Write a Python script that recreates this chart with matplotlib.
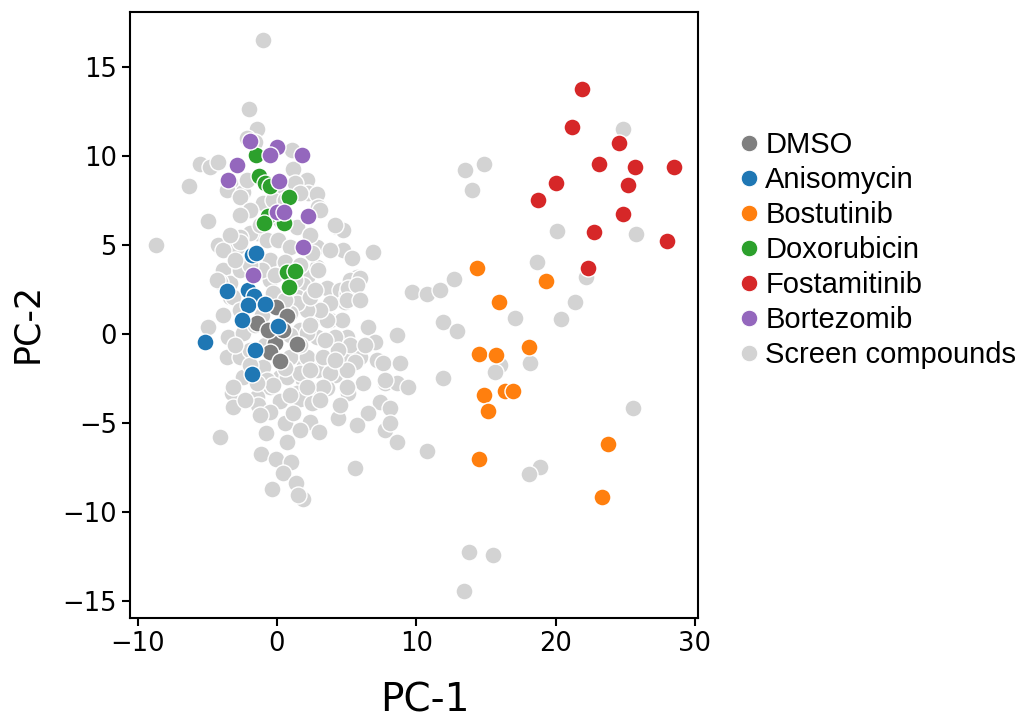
import matplotlib
matplotlib.use("Agg")
import matplotlib.pyplot as plt
from matplotlib.lines import Line2D

# ---------------- data ----------------
screen_x = [-0.98, -1.99, -1.46, -2.18, -1.58, 1.06, -5.53, -4.81, -4.21, -6.34,
            1.17, 2.13, 1.29, 2.25, 2.85, 2.96, -3.37, -3.61, -2.42, -2.18,
            -0.02, -0.98, -2.66, 1.65, 3.09, 1.41, -0.27, -1.46, -1.94, -2.66,
            -4.21, -2.89, -0.74, 0.09, 0.93, 2.85, 4.29, 4.76, 4.76, 5.36,
            6.91, 5.72, 3.57, 2.13, 2.85, -0.50, -3.85, -3.85, -3.37, -0.50,
            -0.27, 1.89, 4.52, 5.24, 5.00, -4.93, -8.69, -2.66, 2.49, 4.16,
            5.96, 4.88, 2.96, 1.89, -4.09, -3.37, -3.85, -4.93, -3.50, -3.61,
            -2.42, -3.25, -2.66, -0.98, 0.22, 1.89, 2.85, 3.80, 4.64, 5.00,
            6.55, 5.24, 5.96, 3.80, 5.12, 7.16, 1.89, 2.85, 1.41, -0.50,
            -1.46, 2.37, 1.41, 3.80, 3.09, 5.12, 4.16, 5.24, 7.04, 8.59,
            5.60, 7.63, 8.83, 7.75, 8.59, 9.43, 4.16, 7.39, 8.11, 6.55,
            4.40, 5.72, 7.75, 8.11, 8.59, 10.75, 11.94, 11.94, 12.90, 9.67,
            10.75, 11.70, 12.71, 17.09, 18.64, 18.16, 16.01, 15.65, 5.60, 13.52,
            14.88, 14.02, 24.86, 20.08, 25.75, 22.16, 21.37, 20.39, 18.88, 18.07,
            25.58, 13.80, 15.53, 13.40, -3.14, -1.34, 0.22, 1.65, 2.49, 3.57,
            -4.09, -0.79, 0.57, 2.37, 3.04, 0.70, -1.17, -0.07, 0.98, 0.41,
            -0.38, 1.36, 1.89, 1.53, -0.50, 1.17, -2.42, -0.74, 0.70, 1.65,
            2.85, 3.80, 5.00, 0.93, 2.13, 3.32, 4.40, 1.65, 3.57, 3.09,
            2.13, 1.41, 2.37, 5.00, 5.72, 7.75, 6.20, 5.00, 3.32, 2.13,
            -0.27, -1.46, -3.14, -4.33, -3.14, 2.13, 0.93, -1.08, 0.57, -1.08,
            0.57, -2.66, 1.65, 3.80, -0.86, -1.94, 0.93,
            -1.94, -0.14, 1.29, 2.73, -2.66, -1.58, 2.37, 3.45, 1.65, 0.57,
            -1.94, -3.01, 2.37, 4.16, 0.93, 3.09, -2.30, -1.22, 1.65, 4.52,
            -1.22, 0.22, 2.37, -3.37, -1.94, -2.66, 0.57, -3.01, 5.96, 6.32]
screen_y = [16.52, 12.64, 11.52, 10.99, 10.80, 10.34, 9.55, 9.40, 9.66, 8.31,
            9.25, 8.65, 8.47, 7.94, 7.87, 7.12, 8.47, 8.09, 7.99, 8.65,
            7.99, 7.34, 7.71, 7.90, 6.97, 6.03, 7.53, 5.66, 5.66, 5.47,
            5.00, 4.90, 5.28, 5.28, 4.90, 4.90, 6.03, 5.84, 4.72, 4.25,
            4.62, 3.22, 2.57, 3.22, 3.78, 4.16, 4.72, 3.60, 2.85, 3.03,
            2.29, 2.47, 2.47, 3.03, 2.29, 6.37, 5.00, 5.19, 4.53, 6.12,
            3.13, 1.81, 3.60, 2.75, 2.94, 2.10, 1.07, 0.41, -0.15, -1.28,
            -2.40, -3.33, -1.28, -1.84, -2.40, -1.46, -0.15, 0.79, 0.79, -0.15,
            0.41, -1.28, -1.28, -2.40, -3.33, -1.46, -2.58, -3.15, -3.33, -2.96,
            -3.52, 1.63, 2.10, 1.72, 0.97, 2.57, -0.15, -0.62, -0.43, -0.06,
            -1.56, -1.65, -1.65, -2.77, -2.77, -2.96, -2.30, -3.80, -4.17, -4.46,
            -4.74, -5.11, -5.39, -5.02, -6.05, -6.56, -2.49, 0.69, 0.19, 2.38,
            2.25, 2.47, 3.07, 0.88, 4.06, -1.61, -1.74, -2.12, -7.54, 9.21,
            9.55, 8.09, 11.52, 5.80, 5.62, 3.19, 1.81, 0.83, -7.46, -7.87,
            -4.14, -12.23, -12.42, -14.44, -4.08, -3.99, -3.75, -3.67, -3.86, -3.05,
            -5.80, -5.54, -5.02, -4.93, -5.49, -6.05, -6.74, -7.04, -7.19, -7.83,
            -8.71, -8.35, -9.27, -9.04, -4.37, -4.46, 0.04, -2.58, -2.40, -2.21,
            -2.02, -2.21, -2.02, -1.28, -1.28, -1.28, -0.90, 0.22, 0.79, 1.35,
            1.35, 1.72, 2.10, 1.91, 2.75, -2.58, -2.77, -2.96, -2.96, -2.96,
            -2.87, -2.77, -2.96, 3.03, 2.10, 0.04, 1.16, 3.60, 4.04, 1.07,
            1.91, 3.60, 3.88, 4.72, -0.62, -0.90, -0.06,
            3.88, 3.31, 3.03, 2.47, 1.35, 0.51, 0.51, -0.34, -0.62, -1.91,
            -1.74, -0.62, -2.02, -1.46, -3.43, -3.71, -3.71, -4.55, -5.39, -3.99,
            6.12, 6.40, 5.56, 5.56, 6.97, 6.69, 7.53, 4.16, 1.91, -0.62]

dmso_x = [-0.07, 0.72, -1.40, -0.14, 1.41, -0.50, 0.22, -0.65, 0.43]
dmso_y = [1.54, 0.98, 0.63, -0.51, -0.56, -1.01, -1.52, 0.22, 0.22]

aniso_x = [-1.82, -1.51, -3.57, -2.06, -1.63, -2.06, -0.86, -2.53, 0.05, -5.15, -1.58, -1.82]
aniso_y = [4.44, 4.52, 2.44, 2.47, 2.13, 1.60, 1.66, 0.81, 0.42, -0.45, -0.93, -2.26]

bost_x = [14.34, 19.31, 15.94, 14.48, 15.72, 18.11, 14.84, 16.37, 16.92, 15.15, 14.48, 23.74, 23.35]
bost_y = [3.69, 2.99, 1.80, -1.14, -1.20, -0.71, -3.43, -3.20, -3.20, -4.34, -7.01, -6.18, -9.17]

doxo_x = [-1.51, -1.27, -0.86, -0.50, 0.86, -0.62, -0.93, 0.52, 0.72, 1.33, 0.88]
doxo_y = [10.06, 8.85, 8.47, 8.34, 7.72, 6.60, 6.24, 6.21, 3.46, 3.54, 2.64]

fosta_x = [21.87, 21.16, 24.55, 23.09, 25.68, 28.52, 25.22, 20.05, 18.76, 24.86, 22.76, 28.02, 22.35]
fosta_y = [13.75, 11.65, 10.71, 9.53, 9.38, 9.40, 8.39, 8.47, 7.54, 6.76, 5.75, 5.22, 3.72]

bort_x = [-1.94, 0.02, -0.50, 1.79, -2.87, -3.48, 0.17, -0.02, 0.52, 2.25, 1.89, -1.74]
bort_y = [10.84, 10.49, 10.06, 10.06, 9.47, 8.65, 8.60, 6.83, 6.85, 6.60, 4.89, 3.31]

labels = ["DMSO", "Anisomycin", "Bostutinib", "Doxorubicin", "Fostamitinib",
          "Bortezomib", "Screen compounds"]
colors = ["#7f7f7f", "#1f77b4", "#ff7f0e", "#2ca02c", "#d62728", "#9467bd", "#d3d3d3"]

xticks = [-10, 0, 10, 20, 30]
yticks = [-15, -10, -5, 0, 5, 10, 15]

# ---------------- plot ----------------
plt.rcParams['font.family'] = ['DejaVu Sans']
fig = plt.figure(figsize=(10.21, 7.18), dpi=100)
ax = fig.add_axes([0.1273, 0.1393, 0.5563, 0.844])

kw = dict(s=150, edgecolors="white", linewidths=1.0)
ax.scatter(screen_x, screen_y, color=colors[6], **kw)
groups = [(dmso_x, dmso_y), (aniso_x, aniso_y), (bost_x, bost_y),
          (doxo_x, doxo_y), (fosta_x, fosta_y), (bort_x, bort_y)]
for (gx, gy), c in zip(groups, colors[:6]):
    ax.scatter(gx, gy, color=c, **kw)

ax.set_xlim(-10.55, 30.22)
ax.set_ylim(-15.96, 18.09)
ax.set_xticks(xticks)
ax.set_yticks(yticks)
ax.tick_params(labelsize=18.5, width=1.5, length=6)
for sp in ax.spines.values():
    sp.set_linewidth(1.5)
ax.set_xlabel("PC-1", fontsize=28)
ax.set_ylabel("PC-2", fontsize=25)
ax.xaxis.set_label_coords(0.52, -0.105)
ax.yaxis.set_label_coords(-0.151, 0.487)

handles = [Line2D([], [], marker="o", linestyle="", markersize=12,
                  markerfacecolor=c, markeredgecolor="white", markeredgewidth=0.8)
           for c in colors]
leg = ax.legend(handles, labels, loc="center left", bbox_to_anchor=(1.044, 0.607),
                frameon=False, handletextpad=0.05, handlelength=1.0,
                labelspacing=0.24, borderaxespad=0.0,
                prop={"family": "Liberation Sans", "size": 21})

fig.savefig("out.png", dpi=100)
